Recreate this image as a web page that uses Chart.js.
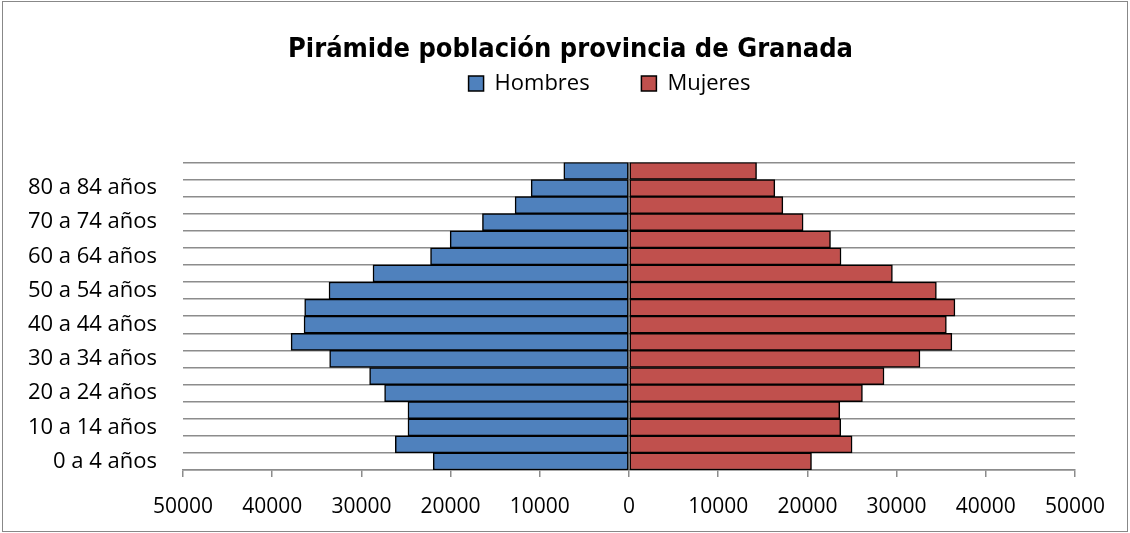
<!DOCTYPE html>
<html>
<head>
<meta charset="utf-8">
<script src="https://cdn.jsdelivr.net/npm/chart.js@4/dist/chart.umd.min.js"></script>
<style>
  html, body { margin: 0; padding: 0; background: #fff; }
  #wrap { width: 1130px; height: 533px; }
</style>
</head>
<body>
<div id="wrap"><canvas id="pyramid" width="1130" height="533"></canvas></div>
<script>
// age groups, bottom to top
const ageGroups = ['0 a 4 años', '5 a 9 años', '10 a 14 años', '15 a 19 años', '20 a 24 años',
    '25 a 29 años', '30 a 34 años', '35 a 39 años', '40 a 44 años', '45 a 49 años',
    '50 a 54 años', '55 a 59 años', '60 a 64 años', '65 a 69 años', '70 a 74 años',
    '75 a 79 años', '80 a 84 años', '85 y más años'];
const hombres = [21950, 26200, 24780, 24780, 27400, 29080, 33560, 37880, 36430,
    36360, 33630, 28700, 22250, 20050, 16430, 12770, 10970, 7310];
const mujeres = [20460, 25010, 23740, 23630, 26170, 28590, 32620, 36200, 35580,
    36540, 34460, 29530, 23770, 22590, 19520, 17250, 16350, 14300];
const xTicks = [-50000, -40000, -30000, -20000, -10000, 0, 10000, 20000, 30000, 40000, 50000];

const sans = '"Open Sans", "Noto Sans", sans-serif';
const gridGray = '#8c8c8c';

// white background + thin frame round the chart
const frame = {
    id: 'frame',
    beforeDraw(chart) {
        const c = chart.ctx;
        c.save();
        c.fillStyle = '#fff';
        c.fillRect(0, 0, chart.width, chart.height);
        c.strokeStyle = '#888';
        c.lineWidth = 1;
        c.strokeRect(2.5, 1.5, chart.width - 5, chart.height - 3);
        c.restore();
    }
};

// extra room under the legend, and move title/legend over like the original
const headerTweaks = {
    id: 'headerTweaks',
    beforeInit(chart) {
        const fit = chart.legend.fit;
        chart.legend.fit = function () {
            fit.bind(chart.legend)();
            this.height += 58;
        };
    },
    afterLayout(chart) {
        chart.legend.left += 72;
        chart.legend.right += 72;
        if (chart.titleBlock) {
            chart.titleBlock.left += 33;
            chart.titleBlock.right += 33;
        }
    }
};

const ctx = document.getElementById('pyramid').getContext('2d');
new Chart(ctx, {
    type: 'bar',
    data: {
        labels: ageGroups,
        datasets: [{
            label: 'Hombres',
            data: hombres.map(v => -v),
            backgroundColor: '#4F81BD',
            borderColor: '#000',
            borderWidth: 1.5,
            borderSkipped: false
        }, {
            label: 'Mujeres',
            data: mujeres,
            backgroundColor: '#C0504D',
            borderColor: '#000',
            borderWidth: 1.5,
            borderSkipped: false
        }]
    },
    options: {
        indexAxis: 'y',
        responsive: false,
        animation: false,
        layout: { padding: { top: 8, right: 55, bottom: 0, left: 0 } },
        datasets: { bar: { barPercentage: 1, categoryPercentage: 1 } },
        scales: {
            x: {
                stacked: true,
                min: -50000,
                max: 50000,
                afterBuildTicks(scale) {
                    scale.ticks = xTicks.map(v => ({ value: v }));
                },
                afterFit(scale) { scale.height = 63; },
                ticks: {
                    color: '#000',
                    font: { family: sans, size: 21 },
                    padding: 17,
                    maxRotation: 0,
                    autoSkip: false,
                    callback: v => String(Math.abs(v))
                },
                grid: {
                    color: c => (c.tick && c.tick.value === 0) ? gridGray : 'rgba(0,0,0,0)',
                    tickColor: gridGray,
                    tickLength: 7,
                    lineWidth: 1.5
                },
                border: { display: true, color: gridGray, width: 1.5 }
            },
            y: {
                stacked: true,
                reverse: true,
                afterFit(scale) { scale.width = 183; },
                ticks: {
                    color: '#000',
                    font: { family: sans, size: 22 },
                    padding: 26,
                    autoSkip: false,
                    callback: (v, i) => i % 2 === 0 ? ageGroups[i] : ''
                },
                grid: {
                    offset: true,
                    color: gridGray,
                    lineWidth: 1.5,
                    drawTicks: false
                },
                border: { display: false }
            }
        },
        plugins: {
            title: {
                display: true,
                text: 'Pirámide población provincia de Granada',
                color: '#000',
                font: { family: '"Liberation Sans Narrow", "DejaVu Sans Condensed", sans-serif', size: 27, weight: 'bold' },
                padding: { top: 26, bottom: 0 }
            },
            legend: {
                display: true,
                labels: {
                    color: '#000',
                    font: { family: sans, size: 22 },
                    boxWidth: 15,
                    boxHeight: 15,
                    padding: 6,
                    generateLabels(chart) {
                        const items = Chart.defaults.plugins.legend.labels.generateLabels(chart);
                        items[0].text += '        ';
                        return items;
                    }
                }
            },
            tooltip: { enabled: false }
        }
    },
    plugins: [frame, headerTweaks]
});
</script>
</body>
</html>
